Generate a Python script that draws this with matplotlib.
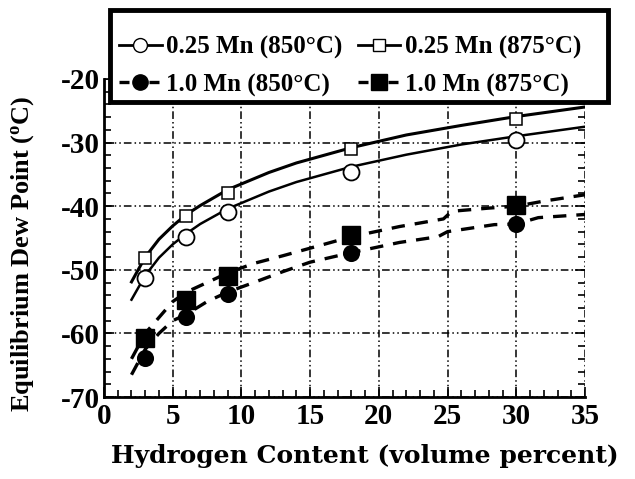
import matplotlib
matplotlib.use('Agg')
import matplotlib.pyplot as plt
import matplotlib.transforms as mtransforms
from matplotlib.patches import Rectangle
from matplotlib.ticker import MultipleLocator

# measured equilibrium dew points
hydrogen = [3, 6, 9, 18, 30]
mn025_850 = [-51.3, -44.8, -40.9, -34.6, -29.6]
mn025_875 = [-48.1, -41.5, -38.0, -31.0, -26.3]
mn10_850 = [-63.9, -57.4, -53.8, -47.4, -42.8]
mn10_875 = [-60.8, -54.7, -51.0, -44.5, -39.8]

# fitted curves
fit_x_025 = [2, 3, 4, 5, 6, 7, 9, 12, 14, 18, 22, 26, 30, 35]
fit_025_875 = [-51.9, -48.0, -45.2, -43.1, -41.3, -39.9, -37.4, -34.7, -33.2, -30.8, -28.8, -27.3, -25.9, -24.4]
fit_025_850 = [-54.7, -50.9, -48.1, -46.0, -44.3, -42.8, -40.4, -37.7, -36.2, -33.8, -31.9, -30.3, -29.0, -27.5]
fit_x_875 = [2, 3, 4, 5, 6, 7.5, 9, 10.9, 13, 15.5, 18, 21.5, 24.7, 25.3, 28, 30, 32, 35]
fit_10_875 = [-64.0, -60.0, -57.5, -55.0, -53.5, -52.0, -50.5, -49.0, -47.8, -46.3, -44.8, -43.2, -42.0, -40.8, -40.3, -40.0, -39.2, -38.2]
fit_x_850 = [2, 3, 4, 5, 6, 7.5, 9, 10.9, 13, 15, 18, 21.5, 24.3, 25, 28.4, 30, 31.6, 35]
fit_10_850 = [-66.5, -62.5, -60.0, -58.0, -57.0, -55.0, -53.5, -52.0, -50.3, -48.8, -47.3, -45.7, -44.8, -44.0, -42.9, -42.8, -41.8, -41.3]

yticks = [-70, -60, -50, -40, -30, -20]
ytick_labels = ['-70', '-60', '-50', '-40', '-30', '-20']

plt.rcParams['font.family'] = ['Liberation Serif', 'DejaVu Serif']
plt.rcParams['font.weight'] = 'bold'
plt.rcParams['axes.labelweight'] = 'bold'
plt.rcParams['mathtext.fontset'] = 'custom'
plt.rcParams['mathtext.rm'] = 'Liberation Serif:bold'
plt.rcParams['mathtext.it'] = 'Liberation Serif:bold'
plt.rcParams['mathtext.bf'] = 'Liberation Serif:bold'

W, H = 635, 479
fig = plt.figure(figsize=(W / 100, H / 100), dpi=100)
ax = fig.add_axes([104 / W, 1 - 397 / H, 481 / W, 318 / H])

GRID = (0, (5, 2, 1, 2, 1, 2))
DASH = (0, (4, 3))

ax.plot(fit_x_025, fit_025_850, color='black', lw=1.8)
ax.plot(fit_x_025, fit_025_875, color='black', lw=2.2)
ax.plot(fit_x_850, fit_10_850, color='black', lw=2.4, linestyle=DASH)
ax.plot(fit_x_875, fit_10_875, color='black', lw=2.4, linestyle=DASH)

ax.plot(hydrogen, mn025_850, 'o', ms=11.5, mfc='white', mec='black', mew=1.3)
ax.plot(hydrogen, mn025_875, 's', ms=9, mfc='white', mec='black', mew=1.1)
ax.plot(hydrogen, mn10_850, 'o', ms=11, mfc='black', mec='black', mew=1.3)
ax.plot(hydrogen, mn10_875, 's', ms=13, mfc='black', mec='black')

ax.set_xlim(0, 35)
ax.set_ylim(-70, -20)
ax.xaxis.set_major_locator(MultipleLocator(5))
ax.xaxis.set_minor_locator(MultipleLocator(1))
ax.yaxis.set_minor_locator(MultipleLocator(2))
ax.set_yticks(yticks)
ax.set_yticklabels(ytick_labels)
ax.tick_params(which='both', direction='in', right=True, top=False,
               labelsize=21, width=1.2)
ax.tick_params(axis='y', pad=3)
ax.tick_params(axis='x', pad=4)
ax.tick_params(which='major', length=7)
ax.tick_params(which='minor', length=5)
ax.grid(True, which='major', color='black', lw=1.1, linestyle=GRID)
for side in ['top', 'right']:
    ax.spines[side].set_visible(False)
for side in ['left', 'bottom']:
    ax.spines[side].set_linewidth(2)

# nudge the "0" on the x axis clear of the "-70"
zero_label = ax.get_xticklabels()[0]
zero_label.set_transform(zero_label.get_transform() +
                         mtransforms.ScaledTranslation(4 / 100, 0, fig.dpi_scale_trans))

ax.set_xlabel('Hydrogen Content (volume percent)', fontsize=18,
              family=['DejaVu Serif'])
ax.xaxis.set_label_coords(0.543, -0.148)
ax.set_ylabel('Equilibrium Dew Point ($^o$C)', fontsize=19)
ax.yaxis.set_label_coords(-0.142, 0.45)

# legend box sits over the top of the plot, text rides low in it
box = Rectangle((110 / W, 1 - 102 / H), 498 / W, 92 / H, transform=fig.transFigure,
                facecolor='white', edgecolor='black', lw=3.5, zorder=5)
fig.add_artist(box)

handles = [
    plt.Line2D([], [], color='black', lw=2, marker='o', ms=10, mfc='white', mec='black'),
    plt.Line2D([], [], color='black', lw=2.4, linestyle=(0, (3, 1.5)), marker='o', ms=11, mfc='black', mec='black'),
    plt.Line2D([], [], color='black', lw=2, marker='s', ms=9, mfc='white', mec='black'),
    plt.Line2D([], [], color='black', lw=2.4, linestyle=(0, (3, 1.5)), marker='s', ms=12, mfc='black', mec='black'),
]
labels = ['0.25 Mn (850°C)', '1.0 Mn (850°C)', '0.25 Mn (875°C)', '1.0 Mn (875°C)']
leg = fig.legend(handles, labels, loc='upper left', bbox_to_anchor=(119 / W, 1 - 36 / H),
                 borderaxespad=0, borderpad=0, ncol=2, fontsize=18, frameon=False,
                 handlelength=1.7, handletextpad=0.2, columnspacing=0.6,
                 labelspacing=0.55)
leg.set_zorder(6)

fig.savefig('out.png', dpi=100)
